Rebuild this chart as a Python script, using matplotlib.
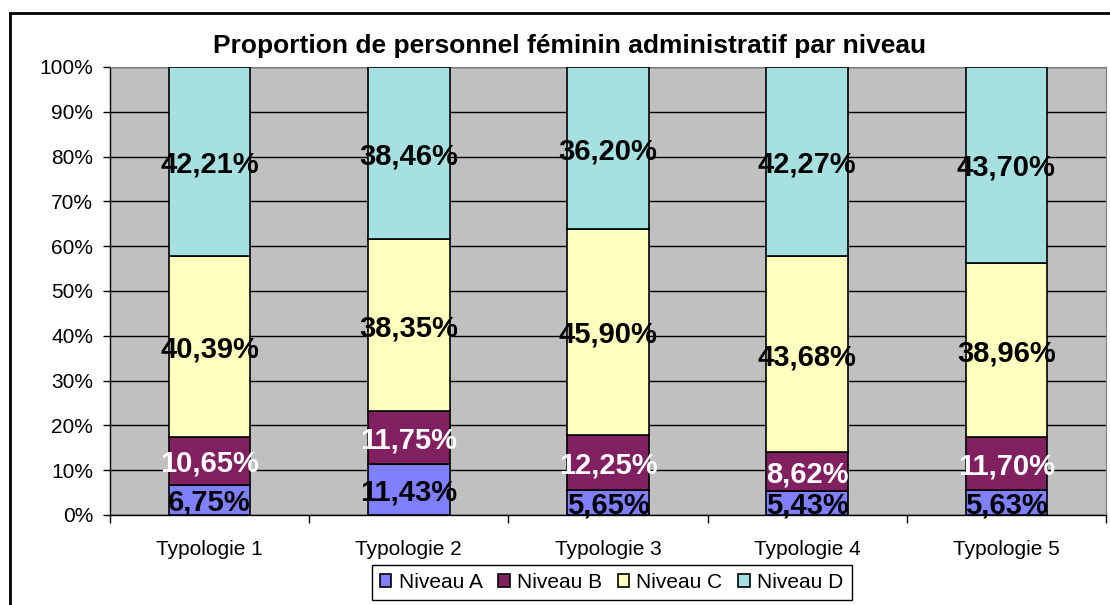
import matplotlib
matplotlib.use("Agg")
import matplotlib.pyplot as plt
import matplotlib.patches as mpatches
import numpy as np

categories = ["Typologie 1", "Typologie 2", "Typologie 3", "Typologie 4", "Typologie 5"]
series_names = ["Niveau A", "Niveau B", "Niveau C", "Niveau D"]
niveau_a = [6.75, 11.43, 5.65, 5.43, 5.63]
niveau_b = [10.65, 11.75, 12.25, 8.62, 11.70]
niveau_c = [40.39, 38.35, 45.90, 43.68, 38.96]
niveau_d = [42.21, 38.46, 36.20, 42.27, 43.70]

colors = ["#8080FF", "#802060", "#FFFFC0", "#A6E0E0"]
label_colors = ["black", "white", "black", "black"]

plt.rcParams["font.family"] = ["Liberation Sans", "DejaVu Sans"]

fig = plt.figure(figsize=(11.1, 6.05), dpi=100)
ax = fig.add_axes([110 / 1110, 90 / 605, 996 / 1110, 448 / 605])
ax.set_facecolor("#C0C0C0")

# outer chart frame (right/bottom edges fall outside the picture)
fig.patches.append(mpatches.Rectangle((10 / 1110, -0.05), 1.2, (605 - 13) / 605 + 0.05,
                                      transform=fig.transFigure, fill=False,
                                      edgecolor="black", lw=2, zorder=0))

x = np.arange(len(categories))
bottom = np.zeros(len(categories))
for name, vals, col, lc in zip(series_names, [niveau_a, niveau_b, niveau_c, niveau_d],
                               colors, label_colors):
    vals = np.array(vals)
    ax.bar(x, vals, 0.41, bottom=bottom, color=col, edgecolor="black",
           lw=1.2, label=name, zorder=3)
    for xi, b, v in zip(x, bottom, vals):
        ax.text(xi, b + v / 2, f"{v:.2f}%".replace(".", ","), ha="center",
                va="center_baseline", fontsize=21, fontweight="bold", color=lc,
                zorder=4)
    bottom += vals

ax.set_xlim(-0.5, 4.5)
ax.set_ylim(0, 100)
ax.set_yticks(range(0, 101, 10))
ax.set_yticklabels([f"{v}%" for v in range(0, 101, 10)], fontsize=15)
ax.yaxis.grid(True, color="black", lw=1, zorder=1)
ax.tick_params(axis="y", length=5, width=1, pad=7)

ax.set_xticks(x)
ax.set_xticklabels(categories, fontsize=15)
ax.set_xticks(np.arange(-0.5, 5, 1), minor=True)
ax.tick_params(axis="x", which="major", length=0, pad=18)
ax.tick_params(axis="x", which="minor", length=6, width=1)

for side in ["top", "right"]:
    ax.spines[side].set_color("#808080")
for side in ["left", "bottom"]:
    ax.spines[side].set_color("black")
    ax.spines[side].set_linewidth(1)

fig.text(0.513, 0.924, "Proportion de personnel féminin administratif par niveau",
         ha="center", va="center", fontsize=19, fontweight="bold")

leg = fig.legend(loc="center", bbox_to_anchor=(0.551, 0.037), ncol=4, fontsize=15,
                 frameon=True, fancybox=False, edgecolor="black", framealpha=1,
                 handlelength=0.55, handleheight=0.55, handletextpad=0.35,
                 columnspacing=0.75, borderpad=0.4)
leg.get_frame().set_linewidth(1)

fig.savefig("out.png", dpi=100)
